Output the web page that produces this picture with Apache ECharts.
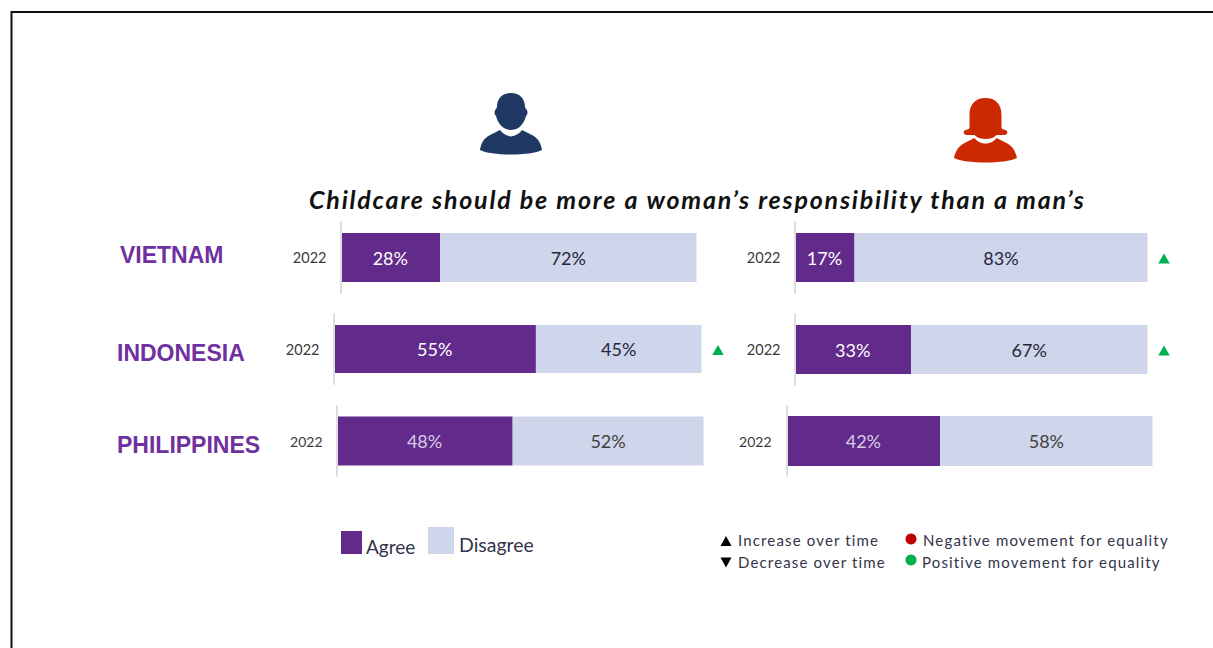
<!DOCTYPE html>
<html>
<head>
<meta charset="utf-8">
<script src="https://cdn.jsdelivr.net/npm/echarts@6/dist/echarts.min.js"></script>
<style>
  html, body { margin: 0; padding: 0; background: #fff; }
  #chart { width: 1213px; height: 648px; }
  /* Tracked-out type for the heading and the key notes */
  #chart text[style*="italic"] { letter-spacing: 1.8px; }
  #chart text[style*="15px"] { letter-spacing: 1.15px; }
</style>
</head>
<body>
<div id="chart"></div>
<script>
// Survey values, in percent, by country
const countries = ['VIETNAM', 'INDONESIA', 'PHILIPPINES'];
const years = ['2022', '2022', '2022'];
const menAgree = [28, 55, 48];
const menDisagree = [72, 45, 52];
const womenAgree = [17, 33, 42];
const womenDisagree = [83, 67, 58];
const menTrend = [false, true, false];
const womenTrend = [true, true, false];

const chartTitle = 'Childcare should be more a woman\u2019s responsibility than a man\u2019s';

const PURPLE = '#622A8A';
const LAVENDER = '#CFD5EA';
const GREEN = '#00B050';
const RED = '#C00000';
const FONT = 'Lato, "Open Sans", sans-serif';

// Panel placement: each bar sits in its own grid
const panels = [
  { left: 340.5, width: 356, top: 222, height: 71, bar: 49, margin: 14, size: 14.5 },
  { left: 333.5, width: 368, top: 314, height: 70, bar: 48, margin: 14, size: 14.5 },
  { left: 336.5, width: 367, top: 406, height: 70, bar: 49, margin: 14, size: 14 },
  { left: 794.5, width: 353, top: 222, height: 71, bar: 49, margin: 14, size: 14.5 },
  { left: 794.5, width: 353, top: 314, height: 71, bar: 49, margin: 14, size: 14.5 },
  { left: 786.5, width: 366, top: 406, height: 70, bar: 50, margin: 15, size: 14 }
];
const agree = menAgree.concat(womenAgree);
const disagree = menDisagree.concat(womenDisagree);
const trend = menTrend.concat(womenTrend);
const yearLabels = years.concat(years);
const softLabel = [false, false, true, false, false, true];

const grid = panels.map(p => ({ left: p.left, width: p.width, top: p.top, height: p.height }));
const xAxis = panels.map((p, i) => ({
  type: 'value', gridIndex: i, min: 0, max: 100, show: false
}));
const yAxis = panels.map((p, i) => ({
  type: 'category', gridIndex: i, data: [yearLabels[i]], z: 5,
  axisLine: { show: true, lineStyle: { color: '#DEDEDE', width: 2 } },
  axisTick: { show: false },
  axisLabel: { color: '#3A3A3A', fontFamily: FONT, fontSize: p.size, margin: p.margin }
}));
const series = [];
panels.forEach((p, i) => {
  series.push({
    name: 'Agree', type: 'bar', stack: 'p' + i, xAxisIndex: i, yAxisIndex: i,
    barWidth: p.bar, data: [agree[i]], itemStyle: { color: PURPLE },
    label: {
      show: true, position: 'inside', formatter: '{c}%', fontFamily: FONT, fontSize: 18,
      color: softLabel[i] ? '#D9CCE6' : '#FFFFFF'
    }
  });
  series.push({
    name: 'Disagree', type: 'bar', stack: 'p' + i, xAxisIndex: i, yAxisIndex: i,
    barWidth: p.bar, data: [disagree[i]], itemStyle: { color: LAVENDER },
    label: {
      show: true, position: 'inside', formatter: '{c}%', fontFamily: FONT, fontSize: 18,
      color: softLabel[i] ? '#404040' : '#26263A'
    }
  });
});

// Small text helper for the hand-placed annotations
const note = (x, y, text, size, color, extra) => ({
  type: 'text', x, y,
  style: Object.assign({
    text, fill: color, font: size + 'px ' + FONT, textAlign: 'left', textVerticalAlign: 'middle'
  }, extra || {})
});
const triangle = (cx, cy, w, h, fill, down) => ({
  type: 'polygon',
  shape: {
    points: down
      ? [[cx - w / 2, cy - h / 2], [cx + w / 2, cy - h / 2], [cx, cy + h / 2]]
      : [[cx - w / 2, cy + h / 2], [cx + w / 2, cy + h / 2], [cx, cy - h / 2]]
  },
  style: { fill }
});

const manPath = 'M0,0 C-9,0 -14,6 -14,14 L-15,16 C-17,18 -17,21 -15,23 C-14,27 -10,37 0,37 ' +
  'C10,37 14,27 15,23 C17,21 17,18 15,16 L14,14 C14,6 9,0 0,0 Z ' +
  'M-11,37 C-8,41 -4,43 0,43.5 C4,43 8,41 11,37 L21,42 C27,45 30,50 31,57 ' +
  'C20,63 -20,63 -31,57 C-30,50 -27,45 -21,42 Z';
const womanPath = 'M0,0 C-10,0 -16,6 -16,17 L-16,29 C-16,32 -18,31 -20,32 C-23,33 -22,37 -19,37 ' +
  'L-11,37 C-8,40 -4,41 0,41 C4,41 8,40 11,37 L19,37 C22,37 23,33 20,32 C18,31 16,32 16,29 ' +
  'L16,17 C16,6 10,0 0,0 Z ' +
  'M-11,40 C-8,44 -4,45.5 0,45.5 C4,45.5 8,44 11,40 L21,45 C27,48 30,53 31.5,60 ' +
  'C20,66 -20,66 -31.5,60 C-30,53 -27,48 -21,45 Z';
echarts.graphic.registerShape('manIcon', echarts.graphic.extendPath(manPath, {}));
echarts.graphic.registerShape('womanIcon', echarts.graphic.extendPath(womanPath, {}));

const graphic = [
  // Page frame along the top and left edges
  { type: 'line', shape: { x1: 11, y1: 12, x2: 1213, y2: 12 }, style: { stroke: '#111', lineWidth: 2 } },
  { type: 'line', shape: { x1: 11.5, y1: 11, x2: 11.5, y2: 648 }, style: { stroke: '#111', lineWidth: 2 } },
  // Gender pictograms
  { type: 'manIcon', x: 511, y: 93, style: { fill: '#1F3864' } },
  { type: 'womanIcon', x: 985.5, y: 98, style: { fill: '#CC2900' } },
  // Trend legend
  triangle(726, 541, 11, 10, '#000'),
  triangle(726, 562.5, 11, 10, '#000', true),
  note(738, 540, 'Increase over time', 15, '#33334A'),
  note(738, 562, 'Decrease over time', 15, '#33334A'),
  { type: 'circle', shape: { cx: 911, cy: 539, r: 5.5 }, style: { fill: RED } },
  { type: 'circle', shape: { cx: 911, cy: 560, r: 5.5 }, style: { fill: GREEN } },
  note(923, 540, 'Negative movement for equality', 15, '#33334A'),
  note(922, 562, 'Positive movement for equality', 15, '#33334A')
];

// Country names beside the left-hand bars
const countryX = [120, 117, 117];
const countryY = [255, 353, 445];
countries.forEach((name, i) => {
  graphic.push({
    type: 'text', x: countryX[i], y: countryY[i],
    style: {
      text: name, fill: '#7030A0', font: 'bold 23px "Liberation Sans", Arial, sans-serif',
      textAlign: 'left', textVerticalAlign: 'middle'
    }
  });
});

// Green markers for a positive movement, just past the bar end
panels.forEach((p, i) => {
  if (trend[i]) {
    graphic.push(triangle(p.left + p.width + 16.5, p.top + p.height / 2 + 1, 11.5, 10, GREEN));
  }
});

const chart = echarts.init(document.getElementById('chart'), null, { renderer: 'svg' });
chart.setOption({
  animation: false,
  backgroundColor: '#fff',
  title: {
    text: chartTitle, left: 309, top: 186, padding: 0,
    textStyle: { fontFamily: FONT, fontStyle: 'italic', fontWeight: 'bold', fontSize: 25, color: '#111' }
  },
  legend: [
    {
      data: ['Agree'], left: 341, top: 531, icon: 'rect', itemWidth: 21, itemHeight: 23, itemGap: 0,
      selectedMode: false, padding: 0,
      formatter: '{t|{name}}',
      textStyle: {
        rich: { t: { fontFamily: FONT, fontSize: 19, color: '#33334A', padding: [8, 0, 0, -1] } }
      }
    },
    {
      data: ['Disagree'], left: 428, top: 527, icon: 'rect', itemWidth: 26, itemHeight: 27, itemGap: 0,
      selectedMode: false, padding: 0,
      formatter: '{t|{name}}',
      textStyle: {
        rich: { t: { fontFamily: FONT, fontSize: 19.5, color: '#33334A', padding: [8, 0, 0, 0] } }
      }
    }
  ],
  grid, xAxis, yAxis, series, graphic
});
</script>
</body>
</html>
